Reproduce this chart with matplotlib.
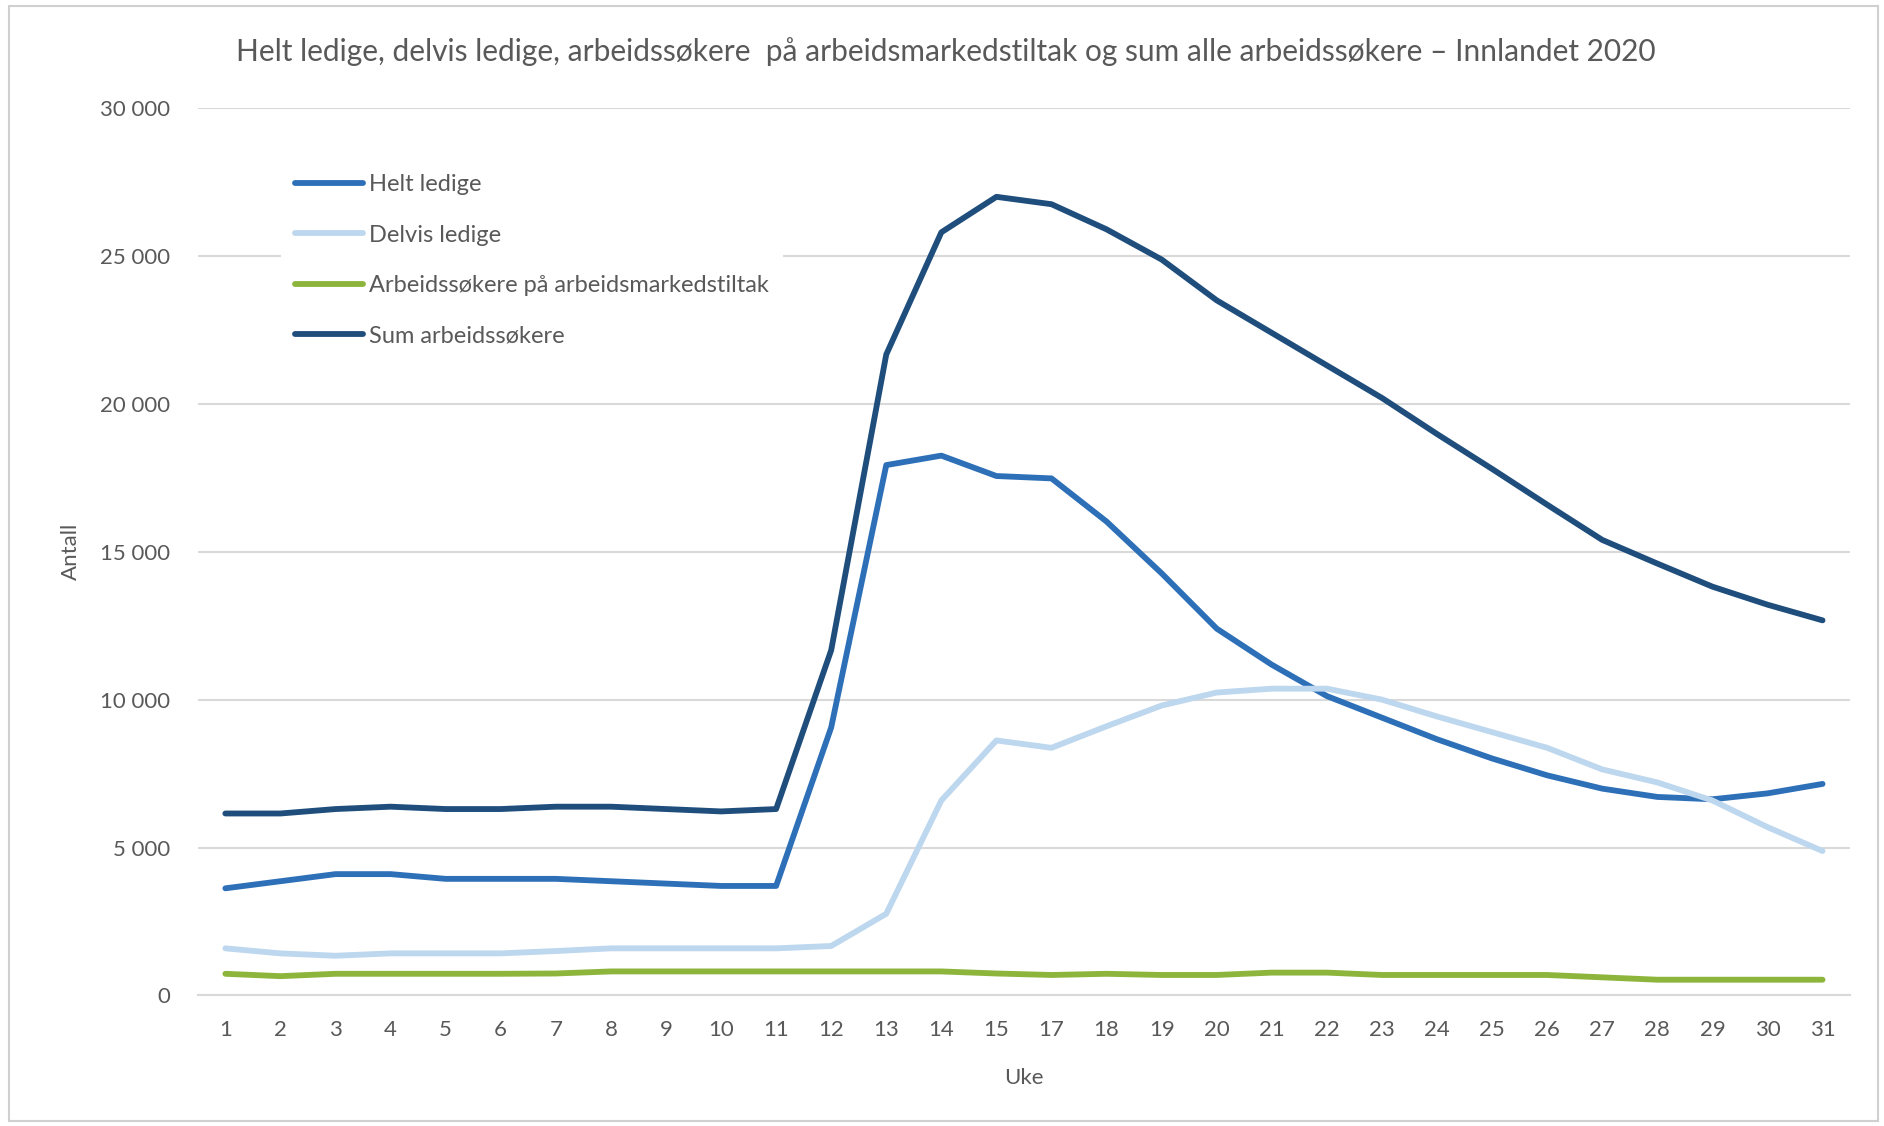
"""
Helt ledige, delvis ledige, tiltak og sum arbeidssøkere - Innlandet 2020.

Run directly:
    python plot.py
"""

import matplotlib.pyplot as plt
from matplotlib.patches import Rectangle
from matplotlib.ticker import FuncFormatter


plt.rcParams["font.family"] = ["Lato", "DejaVu Sans"]

# Uke 16 mangler i kildedataene
WEEKS = ["1", "2", "3", "4", "5", "6", "7", "8", "9", "10", "11", "12", "13", "14", "15",
         "17", "18", "19", "20", "21", "22", "23", "24", "25", "26", "27", "28", "29", "30", "31"]

HELT_LEDIGE = [3620, 3860, 4100, 4100, 3940, 3940, 3940, 3860, 3780, 3700, 3700, 9060, 17930, 18250,
               17560, 17480, 16020, 14270, 12400, 11180, 10120, 9390, 8660, 8010, 7440, 6990, 6710,
               6630, 6830, 7150]
DELVIS_LEDIGE = [1590, 1420, 1340, 1420, 1420, 1420, 1500, 1590, 1590, 1590, 1590, 1670, 2760, 6590,
                 8620, 8370, 9100, 9800, 10240, 10370, 10370, 10000, 9430, 8900, 8370, 7640, 7200,
                 6590, 5690, 4880]
TILTAK = [730, 650, 730, 730, 730, 730, 740, 810, 810, 810, 810, 810, 810, 810, 740, 690, 730, 690,
          690, 770, 770, 690, 690, 690, 690, 610, 530, 530, 530, 530]
SUM_ARBEIDSSOKERE = [6150, 6150, 6300, 6380, 6300, 6300, 6380, 6380, 6300, 6220, 6300, 11670, 21670,
                     25800, 27000, 26750, 25900, 24880, 23500, 22400, 21300, 20200, 18980, 17800,
                     16590, 15400, 14600, 13820, 13210, 12680]

SERIES = [
    ("Helt ledige", HELT_LEDIGE, "#2E70B8"),
    ("Delvis ledige", DELVIS_LEDIGE, "#BDD7EE"),
    ("Arbeidssøkere på arbeidsmarkedstiltak", TILTAK, "#8DB53C"),
    ("Sum arbeidssøkere", SUM_ARBEIDSSOKERE, "#1F4E7D"),
]

TEXT_COLOR = "#595959"
GRID_COLOR = "#D9D9D9"


def thousands(value, _pos):
    return f"{int(value):,}".replace(",", " ")


def main() -> None:
    fig = plt.figure(figsize=(18.84, 11.26), dpi=100)
    ax = fig.add_axes([0.105, 0.116, 0.877, 0.788])

    x = range(len(WEEKS))
    for label, values, color in SERIES:
        ax.plot(x, values, color=color, lw=4.2, label=label, solid_capstyle="round",
                solid_joinstyle="round")

    ax.set_xlim(-0.5, len(WEEKS) - 0.5)
    ax.set_ylim(0, 30000)
    ax.set_yticks(range(0, 30001, 5000))
    ax.yaxis.set_major_formatter(FuncFormatter(thousands))
    ax.set_xticks(list(x))
    ax.set_xticklabels(WEEKS)

    ax.grid(axis="y", color=GRID_COLOR, lw=1.5)
    ax.set_axisbelow(True)
    for side in ("top", "right", "left"):
        ax.spines[side].set_visible(False)
    ax.spines["bottom"].set_color(GRID_COLOR)
    ax.spines["bottom"].set_linewidth(1.5)
    ax.tick_params(length=0, labelsize=16, colors=TEXT_COLOR, pad=18)
    ax.tick_params(axis="y", pad=20)

    ax.set_xlabel("Uke", fontsize=16, color=TEXT_COLOR, labelpad=20)
    ax.set_ylabel("Antall", fontsize=16, color=TEXT_COLOR, labelpad=14)

    fig.text(0.502, 0.954, "Helt ledige, delvis ledige, arbeidssøkere  på arbeidsmarkedstiltak og "
             "sum alle arbeidssøkere – Innlandet 2020", ha="center", va="center",
             fontsize=21.5, color=TEXT_COLOR)

    leg = ax.legend(loc="upper left", bbox_to_anchor=(0.043, 0.955), frameon=True, fontsize=17,
                    handlelength=2.9, handletextpad=0.25, labelspacing=1.25, borderpad=0.6)
    leg.get_frame().set_facecolor("white")
    leg.get_frame().set_edgecolor("none")
    leg.get_frame().set_alpha(1.0)
    for text in leg.get_texts():
        text.set_color(TEXT_COLOR)

    fig.patches.append(Rectangle((0.005, 0.004), 0.992, 0.991, transform=fig.transFigure,
                                 fill=False, edgecolor="#D0D0D0", lw=1.5))

    fig.savefig("out.png", dpi=100)
    plt.close(fig)


if __name__ == "__main__":
    main()
